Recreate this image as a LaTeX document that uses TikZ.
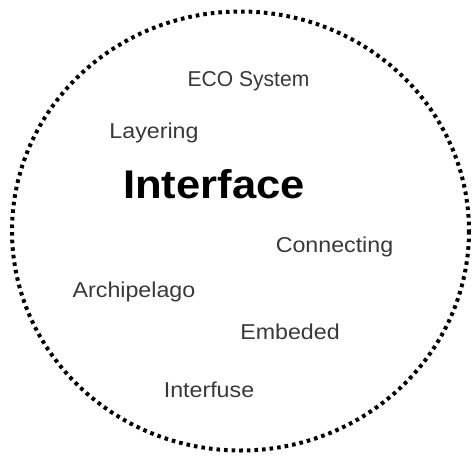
\documentclass[tikz,border=0pt]{standalone}
\usepackage{fontspec}
\setmainfont{Liberation Sans}
\newcommand{\widetxt}[2][1.08]{\scalebox{#1}[1]{#2}}
\begin{document}
\begin{tikzpicture}[x=1pt,y=-1pt,
  word/.style={anchor=base,inner sep=0pt,text=black!78,font=\fontsize{21.5}{24}\selectfont},
  title/.style={anchor=base,inner sep=0pt,text=black,font=\fontsize{40}{46}\selectfont\bfseries}]
\useasboundingbox (0,0) rectangle (472,456);
\draw[line width=4pt,dash pattern=on 3.6pt off 4pt] (240.5,231) ellipse [x radius=228.5,y radius=219.5];
\node[word] (eco) at (248.5,86) {\widetxt[0.98]{ECO System}};
\node[word] (lay) at (154,138) {\widetxt{Layering}};
\node[title] (int) at (214,198) {\widetxt[1.09]{Interface}};
\node[word] (con) at (334.5,252) {\widetxt{Connecting}};
\node[word] (arc) at (134,297) {\widetxt{Archipelago}};
\node[word] (emb) at (290,339) {\widetxt{Embeded}};
\node[word] (ifu) at (209,397) {\widetxt{Interfuse}};
\end{tikzpicture}
\end{document}
